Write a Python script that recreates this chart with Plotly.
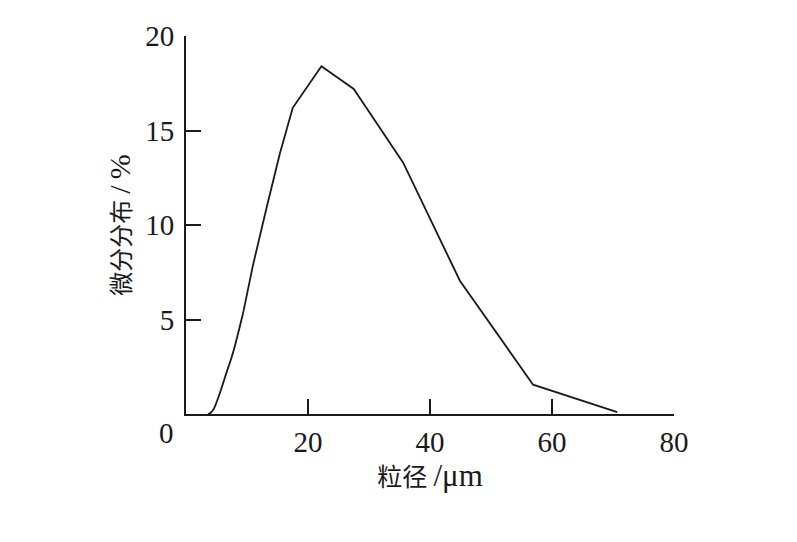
import plotly.graph_objects as go

# particle size (µm) and differential distribution (%)
size_um = [3.6, 4.1, 4.6, 5.1, 5.6, 6.6, 7.75, 9.4, 11.0, 13.2, 15.4, 17.5, 22.2, 27.5, 35.6, 44.9, 56.9, 70.7]
diff_pct = [0.0, 0.08, 0.3, 0.7, 1.15, 2.15, 3.3, 5.4, 7.9, 10.9, 13.8, 16.2, 18.4, 17.2, 13.3, 7.05, 1.55, 0.1]
smooth_upto = 8  # first points form the smooth foot of the curve

x_ticks = [20, 40, 60, 80]
y_ticks = [5, 10, 15, 20]

serif = "Liberation Serif, Times New Roman, Noto Sans CJK SC, serif"
cjk = "Liberation Serif, Noto Sans CJK SC, serif"

x_title = "粒径<span style='font-size:31px'>\u2009/μm</span>"
y_title = "微分分布<span style='font-size:30px'>\u2009/\u2009%</span>"

line_style = dict(color="#1a1a1a", width=1.8)

fig = go.Figure()
fig.add_trace(go.Scatter(
    x=size_um[:smooth_upto], y=diff_pct[:smooth_upto], mode="lines",
    line=dict(**line_style, shape="spline", smoothing=1.0),
    showlegend=False, hoverinfo="skip",
))
fig.add_trace(go.Scatter(
    x=size_um[smooth_upto - 1:], y=diff_pct[smooth_upto - 1:], mode="lines",
    line=line_style,
    showlegend=False, hoverinfo="skip",
))

fig.update_layout(
    width=797, height=542,
    margin=dict(l=178, r=131, t=20, b=136),
    paper_bgcolor="white", plot_bgcolor="white",
    font=dict(family=serif, color="#1a1a1a", size=29),
    xaxis=dict(
        range=[0, 80], tickvals=x_ticks, ticktext=[str(v) for v in x_ticks],
        ticks="inside", ticklen=15, tickwidth=2, tickcolor="#1a1a1a",
        showline=True, linewidth=2, linecolor="#1a1a1a",
        showgrid=False, zeroline=False,
        tickfont=dict(family=serif, size=29),
        ticklabelstandoff=1,
        title=dict(text=x_title, font=dict(family=cjk, size=25), standoff=8),
    ),
    yaxis=dict(
        range=[0, 20], tickvals=y_ticks, ticktext=[str(v) for v in y_ticks],
        ticks="inside", ticklen=15, tickwidth=2, tickcolor="#1a1a1a",
        showline=True, linewidth=2, linecolor="#1a1a1a",
        showgrid=False, zeroline=False,
        tickfont=dict(family=serif, size=29),
        ticklabelstandoff=4,
        title=dict(text=y_title, font=dict(family=cjk, size=24), standoff=8),
    ),
    annotations=[dict(
        x=0, y=0, xref="x", yref="y", text="0", showarrow=False,
        xanchor="right", yanchor="top", xshift=-10, yshift=-1,
        font=dict(family=serif, size=29, color="#1a1a1a"),
    )],
)

fig.write_html("out.html")
